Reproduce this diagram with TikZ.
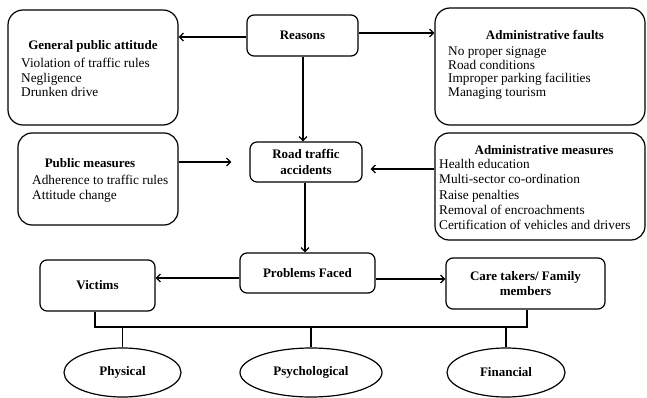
\documentclass[tikz,border=0pt]{standalone}
\usepackage{fontspec}
\setmainfont{Liberation Serif}
\usetikzlibrary{shapes.geometric,arrows.meta}
\begin{document}
\begin{tikzpicture}[x=1pt,y=-1pt,
  box/.style={draw, line width=1.2pt, rounded corners=#1, inner sep=0pt, align=center,
    font=\fontsize{13}{16}\selectfont\bfseries},
  oval/.style={draw, ellipse, line width=1.2pt, inner sep=0pt, minimum height=49pt,
    font=\fontsize{13}{14}\selectfont\bfseries},
  ttl/.style={inner sep=0pt, font=\fontsize{13}{14}\selectfont\bfseries},
  lst/.style={inner sep=0pt, anchor=west, align=left, font=\fontsize{13.3}{#1}\selectfont},
  arr/.style={line width=1.2pt, -{Straight Barb[length=4pt,width=8pt]}},
  ln/.style={line width=1.2pt}
]
\useasboundingbox (0,0) rectangle (647,398);
% boxes
\node[box=15pt, minimum width=170pt, minimum height=115pt] (gp) at (93,67.5) {};
\node[box=7pt, minimum width=111pt, minimum height=41pt] (rs) at (302.5,35.5) {Reasons};
\node[box=15pt, minimum width=210pt, minimum height=117pt] (af) at (540,66.5) {};
\node[box=14pt, minimum width=160pt, minimum height=92pt] (pm) at (98,179) {};
\node[box=7pt, minimum width=112pt, minimum height=40pt] (rta) at (306,162) {Road traffic\\accidents};
\node[box=14pt, minimum width=210pt, minimum height=107pt] (am) at (540,186.5) {};
\node[box=7pt, minimum width=135pt, minimum height=40pt] (pf) at (307.5,273) {Problems Faced};
\node[box=7pt, minimum width=115pt, minimum height=51pt] (vic) at (97.5,285.5) {Victims};
\node[box=7pt, minimum width=159pt, minimum height=51pt, font=\fontsize{13}{15}\selectfont\bfseries] (ct) at (525.5,283.5) {Care takers/ Family\\members};
% texts in large boxes
\node[ttl] (gpt) at (93,46) {General public attitude};
\node[lst=14.5] (gpl) at (21,77.5) {Violation of traffic rules\\Negligence\\Drunken drive};
\node[ttl] (aft) at (545,35) {Administrative faults};
\node[lst=13.4] (afl) at (448,73) {No proper signage\\Road conditions\\Improper parking facilities\\Managing tourism};
\node[ttl] (pmt) at (90,163) {Public measures};
\node[lst=15] (pml) at (32,188.5) {Adherence to traffic rules\\Attitude change};
\node[ttl] (amt) at (544,150) {Administrative measures};
\node[lst=15.25] (aml) at (439,194.5) {Health education\\Multi-sector co-ordination\\Raise penalties\\Removal of encroachments\\Certification of vehicles and drivers};
% ellipses
\node[oval, minimum width=117pt] (ph) at (122.5,372.5) {Physical};
\node[oval, minimum width=142pt] (ps) at (311,372.5) {Psychological};
\node[oval, minimum width=118pt] (fi) at (506,372.5) {Financial};
% connectors
\draw[arr] (rs.west |- 0,37) -- (gp.east |- 0,37);
\draw[arr] (rs.east |- 0,33) -- (af.west |- 0,33);
\draw[arr] (rs.south -| 303,0) -- (rta.north -| 303,0);
\draw[arr, shorten >=18pt] (pm.east |- rta.west) -- (rta.west);
\draw[arr, shorten >=8pt] (am.west |- 0,169) -- (rta.east |- 0,169);
\draw[arr] (rta.south -| 305,0) -- (pf.north -| 305,0);
\draw[arr] (pf.west |- 0,278) -- (vic.east |- 0,278);
\draw[arr] (pf.east |- 0,279) -- (ct.west |- 0,279);
\coordinate (bl) at (95,327);
\coordinate (br) at (527,327);
\draw[ln] (vic.south -| bl) -- (bl) -- (br) -- (ct.south -| br);
\draw[ln] (ph.north |- bl) -- (ph.north);
\draw[ln] (ps.north |- bl) -- (ps.north);
\draw[ln] (fi.north |- bl) -- (fi.north);
\end{tikzpicture}
\end{document}
